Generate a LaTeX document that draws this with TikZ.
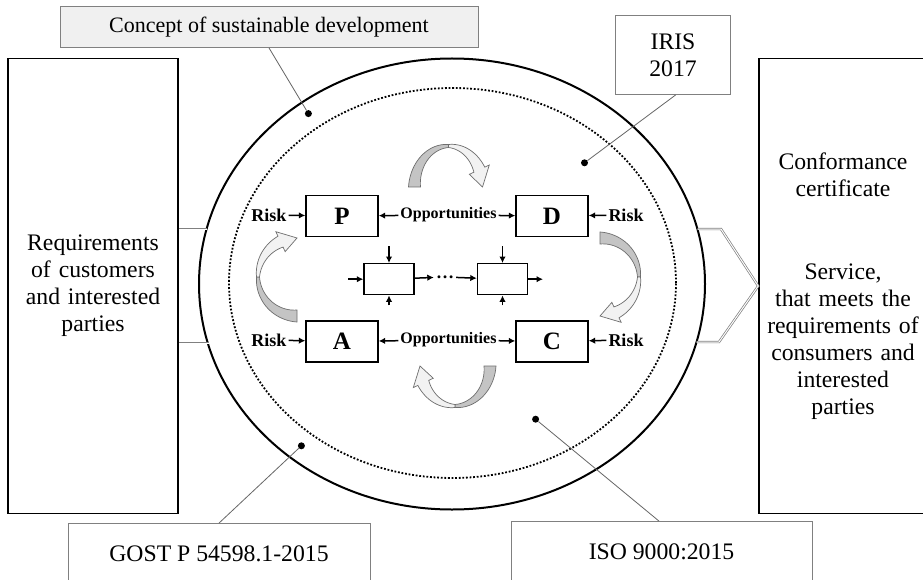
\documentclass[tikz,border=0pt]{standalone}
\usepackage{fontspec}
\setmainfont{Liberation Serif}
\usepackage{tikz}
\usetikzlibrary{positioning, arrows.meta, shapes}
\definecolor{swirldark}{HTML}{C4C4C4}
\definecolor{swirllight}{HTML}{F2F2F2}
\definecolor{swirledge}{HTML}{6E6E6E}
\definecolor{tagfill}{HTML}{F0F0F0}
\newcommand{\mainsize}{\fontsize{23.7}{27}\selectfont}
\tikzset{Side/.style={draw, rectangle, line width=1.6pt, inner sep=2pt, align=center, font=\mainsize}}
\tikzset{Tag/.style={draw=gray, rectangle, line width=0.8pt, fill=white, inner sep=0pt, align=center, font=\mainsize}}
\tikzset{Stage/.style={draw, rectangle, line width=1.4pt, minimum width=72pt, minimum height=41pt, font=\fontsize{25}{28}\selectfont\bfseries}}
\tikzset{Sub/.style={draw, rectangle, line width=1.4pt, minimum width=50pt, minimum height=31pt}}
\tikzset{Word/.style={inner sep=2pt, font=\fontsize{18}{20}\selectfont\bfseries}}
\tikzset{Link/.style={draw, line width=1.5pt, -{Latex[length=6.5pt,width=6.5pt]}}}
\tikzset{Pin/.style={circle, fill, inner sep=0pt, minimum size=7pt}}
\tikzset{Lead/.style={draw=gray!80!black, line width=0.8pt}}
\tikzset{Tie/.style={draw=gray, line width=0.7pt, double=white, double distance=1pt}}
\tikzset{Swirl Dark/.style={fill=swirldark, draw=swirledge, line width=0.7pt}}
\tikzset{Swirl Light/.style={fill=swirllight, draw=swirledge, line width=0.7pt}}

\begin{document}
\begin{tikzpicture}[x=1pt, y=-1pt]
\fill[white] (0,0) rectangle (923,580);
\useasboundingbox (0,0) rectangle (923,580);

% side blocks
\node[Side, minimum width=170pt, minimum height=455pt, text width=160pt] (needs) at (93,286) {Requirements\\ of customers\\ and interested\\ parties};
\node[Side, minimum width=168pt, minimum height=455pt, text width=160pt] (result) at (843,286) {Conformance\\ certificate\\[56pt] Service,\\ that meets the\\ requirements of\\ consumers and\\ interested\\ parties};

% the two ovals
\node[ellipse, draw, line width=2pt, inner sep=0pt, minimum width=506pt, minimum height=451pt] (orbit) at (452,284) {};
\node[ellipse, draw, line width=1.8pt, dash pattern=on 1.8pt off 1.8pt, inner sep=0pt, minimum width=447pt, minimum height=390pt] (core) at (452.5,283) {};

% links to the side blocks
\coordinate (inA) at (206.5,229);
\coordinate (inB) at (208.5,343);
\coordinate (outA) at (697.5,229);
\coordinate (outB) at (696.5,342);
\coordinate (bendA) at (721,229);
\coordinate (bendB) at (719,342);
\draw[Tie] (needs.east |- inA) -- (inA);
\draw[Tie] (needs.east |- inB) -- (inB);
\draw[Tie] (outA) -- (bendA) -- (result.west) -- (bendB) -- (outB);

% labels
\node[Tag, fill=tagfill, minimum width=418pt, minimum height=41pt, font=\fontsize{22}{26}\selectfont] (concept) at (269,27) {Concept of sustainable development};
\node[Tag, minimum width=115pt, minimum height=79pt] (iris) at (673,55) {IRIS\\ 2017};
\node[Tag, minimum width=302pt, minimum height=61pt] (gost) at (219,554) {GOST P 54598.1-2015};
\node[Tag, minimum width=301pt, minimum height=61pt] (iso) at (661.5,552) {ISO 9000:2015};

\node[Pin] (d1) at (308.4,113.6) {};
\node[Pin] (d2) at (584.5,162.8) {};
\node[Pin] (d3) at (301.4,445.8) {};
\node[Pin] (d4) at (535.6,419.2) {};
\draw[Lead] (concept.south) -- (d1);
\draw[Lead] ([xshift=2.7pt]iris.south) -- (d2);
\draw[Lead] (gost.north) -- (d3);
\draw[Lead] ([xshift=-2.5pt]iso.north) -- (d4);

% PDCA
\node[Stage] (P) at (342,216) {P};
\node[Stage] (D) at (552,216) {D};
\node[Stage] (A) at (342,341.5) {A};
\node[Stage] (C) at (552,341.5) {C};

\node[Word] (rP) at (269,215) {Risk};
\node[Word] (rA) at (269,340) {Risk};
\node[Word] (rD) at (626,215) {Risk};
\node[Word] (rC) at (626,340) {Risk};
\node[Word, font=\fontsize{16}{18}\selectfont\bfseries] (oT) at (448.5,215) {Opportunities};
\node[Word, font=\fontsize{16}{18}\selectfont\bfseries] (oB) at (448.5,340) {Opportunities};

\draw[Link] (rP) -- (P);
\draw[Link] (rA) -- (A);
\draw[Link] (rD) -- (D);
\draw[Link] (rC) -- (C);
\draw[Link] (oT) -- (P);
\draw[Link] (oT) -- (D);
\draw[Link] (oB) -- (A);
\draw[Link] (oB) -- (C);

% process chain
\node[Sub] (s1) at (389,279.2) {};
\node[Sub] (s2) at (502.5,279.2) {};
\node[Word] (gap) at (445,277) {\dots};
\coordinate (feed) at (348,279.2);
\coordinate (drain) at (543,279.2);
\draw[Link] (feed) -- (s1);
\draw[Link] (s1) -- (gap);
\draw[Link] (gap) -- (s2);
\draw[Link] (s2) -- (drain);
\foreach \s in {s1, s2} {
  \draw[Link] ([yshift=17pt]\s.north) -- (\s.north);
  \draw[Link] ([yshift=-10pt]\s.south) -- (\s.south);
}

% turning arrows
\foreach \cx/\cy/\rx/\ry/\a in {448.5/187/34/41/180, 600/277/39/39/-90, 455/366/35/40/0, 297/277/39/39/90} {
  \pgfmathsetmacro{\twist}{\a+90}
  \pgfmathsetmacro{\hbase}{\a+155}
  \pgfmathsetmacro{\htip}{\a+180}
  \filldraw[Swirl Dark] plot[domain=\a:\twist, samples=24] ({\cx+(\rx+6-4.5*(\x-(\a))/90)*cos(\x)}, {\cy+(\ry+6-4.5*(\x-(\a))/90)*sin(\x)})
    -- plot[domain=\twist:\a, samples=24] ({\cx+(\rx-6+4.5*(\x-(\a))/90)*cos(\x)}, {\cy+(\ry-6+4.5*(\x-(\a))/90)*sin(\x)}) -- cycle;
  \filldraw[Swirl Light] plot[domain=\twist:\hbase, samples=20] ({\cx+(\rx+1.5+4.5*(\x-\twist)/65)*cos(\x)}, {\cy+(\ry+1.5+4.5*(\x-\twist)/65)*sin(\x)})
    -- ({\cx+(\rx+11)*cos(\hbase)}, {\cy+(\ry+11)*sin(\hbase)})
    -- ({\cx+\rx*cos(\htip)}, {\cy+\ry*sin(\htip)})
    -- ({\cx+(\rx-11)*cos(\hbase)}, {\cy+(\ry-11)*sin(\hbase)})
    -- plot[domain=\hbase:\twist, samples=20] ({\cx+(\rx-1.5-4.5*(\x-\twist)/65)*cos(\x)}, {\cy+(\ry-1.5-4.5*(\x-\twist)/65)*sin(\x)}) -- cycle;
}
\end{tikzpicture}
\end{document}
